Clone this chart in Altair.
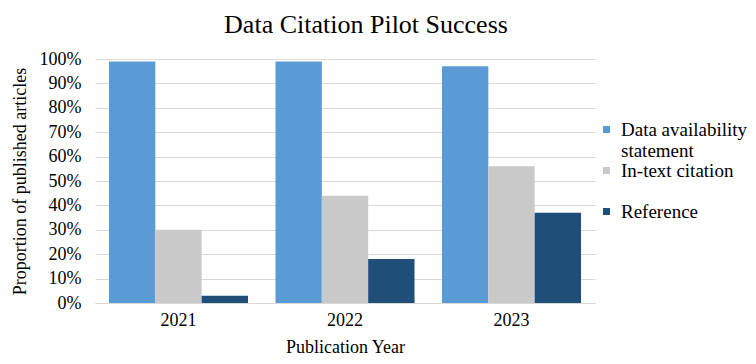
import altair as alt
import pandas as pd

years = ["2021", "2022", "2023"]
series = ["Data availability statement", "In-text citation", "Reference"]
data_availability = [99, 99, 97]
in_text = [30, 44, 56]
reference = [3, 18, 37]
colors = ["#5B9BD5", "#C9C9C9", "#1F4E79"]

rows = []
for i, y in enumerate(years):
    for s, vals in zip(series, [data_availability, in_text, reference]):
        rows.append({"year": y, "series": s, "value": vals[i] / 100})
df = pd.DataFrame(rows)

FONT = "Liberation Serif"

label_expr = ("datum.label == 'Data availability statement' ? ['Data availability', 'statement'] : "
              "[datum.label, ' ']")

chart = alt.Chart(df).mark_bar().encode(
    x=alt.X("year:N", title="Publication Year",
            scale=alt.Scale(paddingInner=0.165, paddingOuter=0.084),
            axis=alt.Axis(labelAngle=0, labelFontSize=18, titleFontSize=18,
                          ticks=False, domainColor="#D9D9D9", labelPadding=8,
                          titlePadding=9)),
    xOffset=alt.XOffset("series:N", sort=series),
    y=alt.Y("value:Q", title="Proportion of published articles",
            scale=alt.Scale(domain=[0, 1]),
            axis=alt.Axis(format="%", values=[i / 10 for i in range(11)],
                          labelFontSize=18, titleFontSize=18, domain=False,
                          ticks=False, gridColor="#D9D9D9", labelPadding=14,
                          titlePadding=10)),
    color=alt.Color("series:N", sort=series,
                    scale=alt.Scale(domain=series, range=colors),
                    legend=alt.Legend(title=None, orient="none", legendX=502, legendY=61,
                                      symbolType="square", symbolSize=49,
                                      labelColor="#000", labelFont="Liberation Serif, serif",
                                      labelFontSize=19, labelLimit=200, labelOffset=5,
                                      rowPadding=0, symbolStrokeWidth=0,
                                      labelExpr=label_expr)),
).properties(
    width=500, height=244,
    title=alt.TitleParams("Data Citation Pilot Success", fontSize=26,
                          fontWeight="normal", font=FONT, dx=21, offset=12),
    autosize=alt.AutoSizeParams(type="none"),
    padding={"left": 87, "top": 51, "right": 153, "bottom": 53},
).configure(font=FONT).configure_view(stroke=None).configure_axis(
    labelFont=FONT, titleFont=FONT, labelColor="#000", titleColor="#000",
    titleFontWeight="normal"
).configure_legend(labelFont="Liberation Serif, serif")

chart.save("out.html", embed_options={"renderer": "svg", "actions": False})
